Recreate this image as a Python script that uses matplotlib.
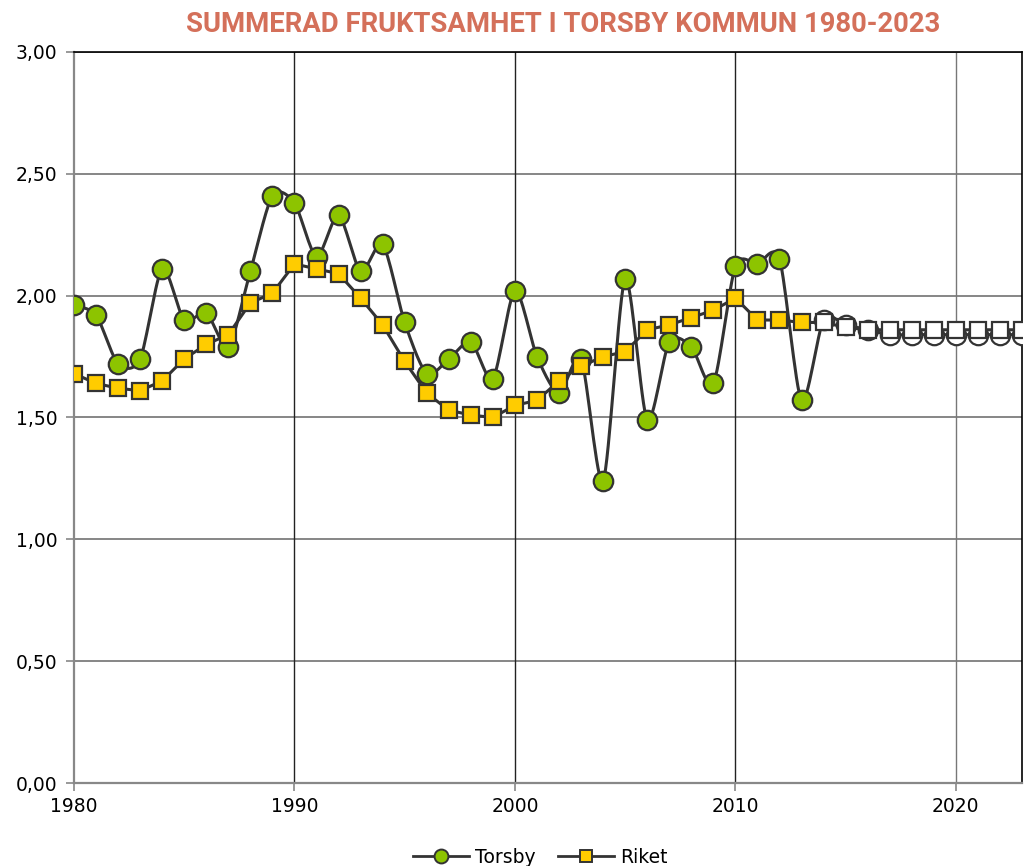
import numpy as np
import matplotlib.pyplot as plt
from matplotlib.ticker import FuncFormatter
from matplotlib.lines import Line2D

years = list(range(1980, 2014))
forecast_years = list(range(2014, 2024))

torsby = [1.96, 1.92, 1.72, 1.74, 2.11, 1.90, 1.93, 1.79, 2.10, 2.41,
          2.38, 2.16, 2.33, 2.10, 2.21, 1.89, 1.68, 1.74, 1.81, 1.66,
          2.02, 1.75, 1.60, 1.74, 1.24, 2.07, 1.49, 1.81, 1.79, 1.64,
          2.12, 2.13, 2.15, 1.57]
riket = [1.68, 1.64, 1.62, 1.61, 1.65, 1.74, 1.80, 1.84, 1.97, 2.01,
         2.13, 2.11, 2.09, 1.99, 1.88, 1.73, 1.60, 1.53, 1.51, 1.50,
         1.55, 1.57, 1.65, 1.71, 1.75, 1.77, 1.86, 1.88, 1.91, 1.94,
         1.99, 1.90, 1.90, 1.89]
torsby_prognos = [1.90, 1.88, 1.86, 1.84, 1.84, 1.84, 1.84, 1.84, 1.84, 1.84]
riket_prognos = [1.89, 1.87, 1.86, 1.86, 1.86, 1.86, 1.86, 1.86, 1.86, 1.86]

y_ticks = [0.0, 0.5, 1.0, 1.5, 2.0, 2.5, 3.0]
x_ticks = [1980, 1990, 2000, 2010, 2020]

GREEN = "#8DC400"
YELLOW = "#FFCC00"
EDGE = "#333333"
TITLE_COLOR = "#D4705A"


def smooth(x, y, steps=16, tension=0.5):
    # catmull-rom style smoothing, like a spreadsheet "smooth line"
    x = np.asarray(x, float)
    y = np.asarray(y, float)
    px, py = [], []
    n = len(x)
    for i in range(n - 1):
        i0, i3 = max(i - 1, 0), min(i + 2, n - 1)
        m1x = tension * (x[i + 1] - x[i0])
        m1y = tension * (y[i + 1] - y[i0])
        m2x = tension * (x[i3] - x[i])
        m2y = tension * (y[i3] - y[i])
        t = np.linspace(0, 1, steps, endpoint=False)
        h00 = 2 * t**3 - 3 * t**2 + 1
        h10 = t**3 - 2 * t**2 + t
        h01 = -2 * t**3 + 3 * t**2
        h11 = t**3 - t**2
        px.extend(h00 * x[i] + h10 * m1x + h01 * x[i + 1] + h11 * m2x)
        py.extend(h00 * y[i] + h10 * m1y + h01 * y[i + 1] + h11 * m2y)
    px.append(x[-1])
    py.append(y[-1])
    return px, py


fig = plt.figure(figsize=(10.29, 8.66), dpi=100)
ax = fig.add_axes([0.0719, 0.0958, 0.9213, 0.8442])

ax.set_xlim(1980, 2023)
ax.set_ylim(0, 3)

for y in y_ticks[1:]:
    ax.axhline(y, color="#666666", lw=1.1, zorder=0)
for x in x_ticks[1:]:
    ax.axvline(x, color="#222222" if x < 2020 else "#777777", lw=1.0, zorder=0)

all_years = years + forecast_years
sx, sy = smooth(all_years, torsby + torsby_prognos, tension=0.4)
ax.plot(sx, sy, color=EDGE, lw=2.2, zorder=2)
ax.plot(years, torsby, ls="none", marker="o", ms=14, mfc=GREEN, mec=EDGE, mew=1.6, zorder=3)
ax.plot(forecast_years, torsby_prognos, ls="none", marker="o", ms=14, mfc="white", mec=EDGE, mew=1.6, zorder=3)

ax.plot(all_years, riket + riket_prognos, color=EDGE, lw=2.2, zorder=4)
ax.plot(years, riket, ls="none", marker="s", ms=12, mfc=YELLOW, mec=EDGE, mew=1.6, zorder=5)
ax.plot(forecast_years, riket_prognos, ls="none", marker="s", ms=12, mfc="white", mec=EDGE, mew=1.6, zorder=5)

ax.set_yticks(y_ticks)
ax.set_xticks(x_ticks)
ax.yaxis.set_major_formatter(FuncFormatter(lambda v, p: f"{v:.2f}".replace(".", ",")))
ax.tick_params(axis="both", direction="out", length=6, color="#888888", width=1.2,
               labelsize=13.5, labelcolor="black")
ax.tick_params(axis="y", pad=6)
ax.tick_params(axis="x", pad=4)

for side in ["left", "bottom"]:
    ax.spines[side].set_color("#888888")
    ax.spines[side].set_linewidth(1.6)
for side in ["top", "right"]:
    ax.spines[side].set_color("black")
    ax.spines[side].set_linewidth(1.2)

fig.text(0.547, 0.972, "SUMMERAD FRUKTSAMHET I TORSBY KOMMUN 1980-2023",
         ha="center", va="center", fontsize=19.8, fontweight="bold",
         color=TITLE_COLOR, family=["Roboto", "DejaVu Sans"])

handles = [
    Line2D([], [], color=EDGE, lw=2, marker="o", ms=10, mfc=GREEN, mec=EDGE, mew=1.4),
    Line2D([], [], color=EDGE, lw=2, marker="s", ms=9, mfc=YELLOW, mec=EDGE, mew=1.4),
]
fig.legend(handles, ["Torsby", "Riket"], loc="center", bbox_to_anchor=(0.525, 0.01),
           ncol=2, frameon=False, fontsize=13.5, handlelength=3, columnspacing=1.2,
           handletextpad=0.3)

fig.savefig("out.png", dpi=100)
